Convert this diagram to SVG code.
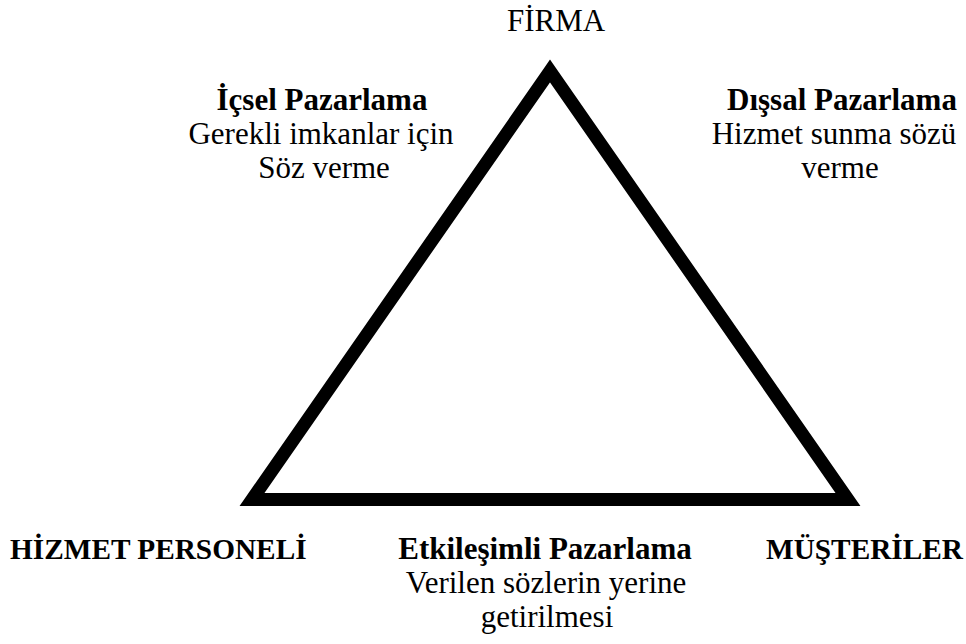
<svg xmlns="http://www.w3.org/2000/svg" width="966" height="644" viewBox="0 0 966 644">
  <style>
    text { font-family: "Liberation Serif", "Times New Roman", serif; font-size: 31px; fill: #000; }
    .b { font-weight: bold; }
    .c { text-anchor: middle; }
    .cap { font-size: 29.3px; font-weight: bold; }
    .edge { fill: none; stroke: #000; stroke-width: 13; stroke-linejoin: miter; stroke-miterlimit: 10; }
  </style>
  <rect width="966" height="644" fill="#fff"/>

  <!-- service triangle -->
  <g id="connectors">
    <polygon class="edge" points="550,71 252,499.5 848,499.5"/>
  </g>

  <!-- corners -->
  <g id="firma">
    <text class="c" x="556" y="31">FİRMA</text>
  </g>
  <g id="hizmet-personeli">
    <text class="cap" x="10" y="559">HİZMET PERSONELİ</text>
  </g>
  <g id="musteriler">
    <text class="cap" x="766" y="559">MÜŞTERİLER</text>
  </g>

  <!-- sides -->
  <g id="icsel-pazarlama">
    <text class="b c" x="322" y="110">İçsel Pazarlama</text>
    <text class="c" x="321" y="144">Gerekli imkanlar için</text>
    <text class="c" x="324" y="178">Söz verme</text>
  </g>
  <g id="dissal-pazarlama">
    <text class="b c" x="842" y="110">Dışsal Pazarlama</text>
    <text class="c" x="834" y="144">Hizmet sunma sözü</text>
    <text class="c" x="840" y="178">verme</text>
  </g>
  <g id="etkilesimli-pazarlama">
    <text class="b c" x="545" y="559">Etkileşimli Pazarlama</text>
    <text class="c" x="546" y="593">Verilen sözlerin yerine</text>
    <text class="c" x="547" y="627">getirilmesi</text>
  </g>
</svg>
